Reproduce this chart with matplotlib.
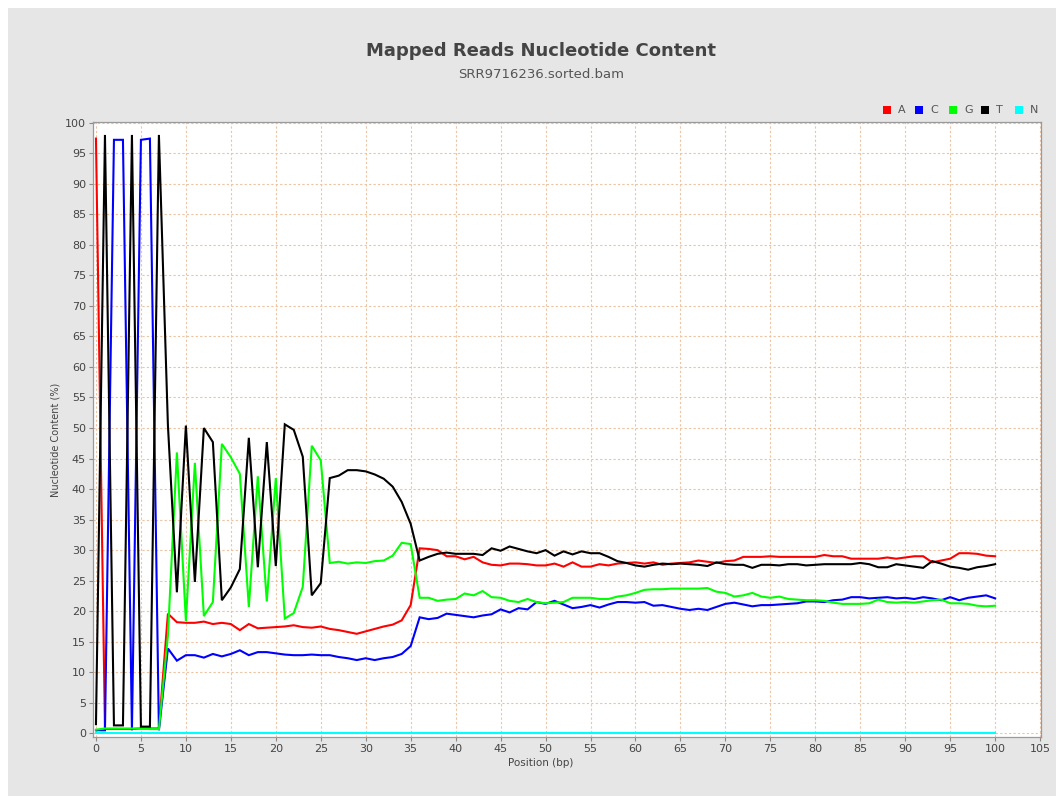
import matplotlib
matplotlib.use("Agg")
import matplotlib.pyplot as plt
from matplotlib.patches import Rectangle

positions = list(range(0, 101))

A = [97.4, 0.7, 0.7, 0.7, 0.7, 0.8, 0.8, 0.8,
     19.6, 18.2, 18.1, 18.1, 18.3, 17.9, 18.1, 17.9, 16.9, 17.9, 17.2, 17.3, 17.4, 17.5, 17.7, 17.4, 17.3,
     17.5, 17.1, 16.9, 16.6, 16.3, 16.7, 17.1, 17.5, 17.8, 18.5, 21.0, 30.3,
     30.2, 30.0, 29.0, 29.0, 28.5, 28.9, 28.0, 27.6, 27.5, 27.8, 27.8, 27.7, 27.5, 27.5, 27.8, 27.3, 28.0,
     27.3, 27.3, 27.7, 27.5, 27.8, 27.9, 28.0, 27.8, 28.0, 27.6, 27.8, 27.9, 28.0, 28.3, 28.1, 27.9,
     28.2, 28.3, 28.9, 28.9, 28.9, 29.0, 28.9, 28.9, 28.9, 28.9, 28.9, 29.2, 29.0, 29.0, 28.6, 28.6, 28.6,
     28.6, 28.8, 28.6, 28.8, 29.0, 29.0, 28.0, 28.3, 28.6, 29.5, 29.5, 29.4, 29.1, 29.0]

C = [0.5, 0.5, 97.2, 97.2, 0.5, 97.2, 97.4, 0.5,
     13.9, 11.9, 12.8, 12.8, 12.4, 13.0, 12.6, 13.0, 13.6, 12.8, 13.3, 13.3, 13.1, 12.9, 12.8, 12.8, 12.9,
     12.8, 12.8, 12.5, 12.3, 12.0, 12.3, 12.0, 12.3, 12.5, 13.0, 14.3, 19.0,
     18.7, 18.9, 19.6, 19.4, 19.2, 19.0, 19.3, 19.5, 20.3, 19.8, 20.5, 20.3, 21.5, 21.2, 21.7, 21.1, 20.5,
     20.7, 21.0, 20.6, 21.1, 21.5, 21.5, 21.4, 21.5, 20.9, 21.0, 20.7, 20.4, 20.2, 20.4, 20.2, 20.7,
     21.2, 21.4, 21.1, 20.8, 21.0, 21.0, 21.1, 21.2, 21.3, 21.6, 21.6, 21.5, 21.8, 21.9, 22.3, 22.3, 22.1,
     22.2, 22.3, 22.1, 22.2, 22.0, 22.3, 22.1, 21.8, 22.3, 21.8, 22.2, 22.4, 22.6, 22.1]

G = [0.6, 0.8, 0.8, 0.8, 0.8, 0.8, 0.7, 0.7,
     16.0, 46.0, 18.4, 44.3, 19.2, 21.5, 47.4, 45.2, 42.5, 20.7, 42.1, 21.6, 41.8, 18.8, 19.7, 24.0, 47.1,
     44.7, 27.9, 28.1, 27.8, 28.0, 27.9, 28.2, 28.3, 29.1, 31.2, 31.0, 22.2,
     22.2, 21.7, 21.9, 22.0, 22.9, 22.6, 23.3, 22.3, 22.2, 21.7, 21.5, 22.0, 21.5, 21.3, 21.4, 21.5, 22.2,
     22.2, 22.2, 22.0, 22.0, 22.4, 22.6, 23.0, 23.5, 23.6, 23.6, 23.7, 23.7, 23.7, 23.7, 23.8, 23.2,
     23.0, 22.4, 22.6, 23.0, 22.4, 22.2, 22.4, 22.0, 21.9, 21.8, 21.8, 21.7, 21.4, 21.2, 21.2, 21.2, 21.3,
     21.9, 21.5, 21.4, 21.5, 21.4, 21.6, 21.8, 21.9, 21.3, 21.3, 21.2, 20.9, 20.8, 20.9]

T = [1.5, 98.0, 1.3, 1.3, 98.0, 1.1, 1.1, 98.0,
     50.5, 23.1, 50.4, 24.8, 50.0, 47.7, 21.8, 23.9, 26.9, 48.4, 27.2, 47.7, 27.4, 50.6, 49.7, 45.3, 22.6,
     24.6, 41.8, 42.2, 43.1, 43.1, 42.9, 42.4, 41.7, 40.4, 37.9, 34.3, 28.3,
     28.9, 29.4, 29.6, 29.4, 29.4, 29.4, 29.2, 30.3, 29.9, 30.6, 30.2, 29.8, 29.5, 30.0, 29.1, 29.8, 29.3,
     29.8, 29.5, 29.5, 28.9, 28.2, 27.9, 27.5, 27.3, 27.6, 27.8, 27.7, 27.8, 27.7, 27.6, 27.4, 28.0,
     27.7, 27.6, 27.6, 27.1, 27.6, 27.6, 27.5, 27.7, 27.7, 27.5, 27.6, 27.7, 27.7, 27.7, 27.7, 27.9, 27.7,
     27.2, 27.2, 27.7, 27.5, 27.3, 27.1, 28.2, 27.8, 27.3, 27.1, 26.8, 27.2, 27.4, 27.7]

N = [0.1] * 101

series_names = ["A", "C", "G", "T", "N"]
series_colors = ["#ff0000", "#0000ff", "#00ff00", "#000000", "#00ffff"]
xticks = list(range(0, 106, 5))
yticks = list(range(0, 101, 5))

W, H = 1063, 802
fig = plt.figure(figsize=(W / 100, H / 100), dpi=100)
fig.patch.set_facecolor("white")
fig.patches.append(Rectangle((8 / W, 6 / H), (1056 - 8) / W, (796 - 8) / H,
                             transform=fig.transFigure, facecolor="#e6e6e6",
                             edgecolor="none", zorder=-10))

ax = fig.add_axes([93 / W, 1 - 737 / H, (1041 - 93) / W, (737 - 121.5) / H])
ax.set_facecolor("white")

for vals, name, col in zip([A, C, G, T, N], series_names, series_colors):
    ax.plot(positions, vals, color=col, lw=1.5, solid_joinstyle="miter", zorder=3)

ax.set_xlim(-0.33, 105.1)
ax.set_ylim(-0.6, 100.2)
ax.set_xticks(xticks)
ax.set_yticks(yticks)
ax.grid(True, color="#efc2a0", linestyle=(0, (2, 2)), lw=0.8, zorder=0)
ax.set_axisbelow(True)
for s in ax.spines.values():
    s.set_color("#9a9a9a")
    s.set_linewidth(0.9)
ax.tick_params(axis="both", direction="out", length=3, width=0.8, color="#888888",
               labelsize=8, labelcolor="#444444", pad=2)

fig.text(541 / W, 1 - 51 / H, "Mapped Reads Nucleotide Content", ha="center", va="center",
         fontsize=13, fontweight="bold", color="#444444")
fig.text(541 / W, 1 - 75 / H, "SRR9716236.sorted.bam", ha="center", va="center",
         fontsize=9.5, color="#555555")
fig.text(541 / W, 1 - 763 / H, "Position (bp)", ha="center", va="center",
         fontsize=7.5, color="#444444")
fig.text(55 / W, 1 - 440 / H, "Nucleotide Content (%)", ha="center", va="center",
         rotation=90, fontsize=7, color="#444444")

# legend
sq_x = [887, 919, 953, 985, 1019]
for xx, name, col in zip(sq_x, series_names, series_colors):
    fig.patches.append(Rectangle(((xx - 4) / W, 1 - 114 / H), 8 / W, 8 / H,
                                 transform=fig.transFigure, facecolor=col, edgecolor="none"))
    fig.text((xx + 11) / W, 1 - 110 / H, name, ha="left", va="center",
             fontsize=8, color="#555555")

fig.savefig("out.png", dpi=100)
